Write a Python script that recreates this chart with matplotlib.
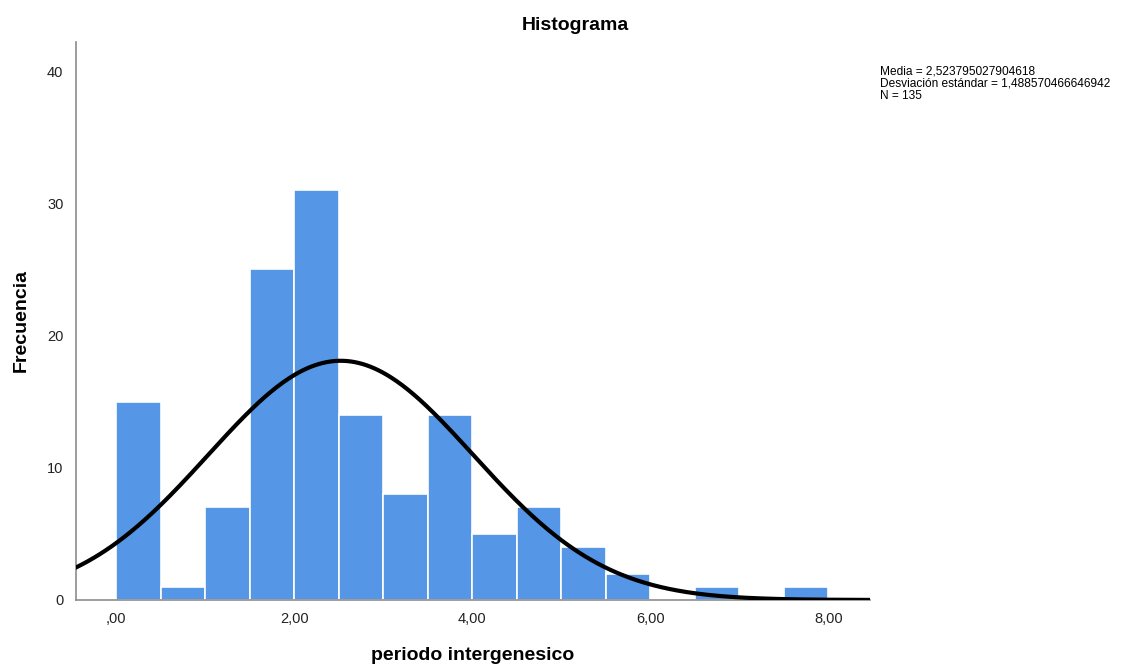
import numpy as np
import matplotlib
matplotlib.use('Agg')
import matplotlib.pyplot as plt

plt.rcParams['font.family'] = ['Liberation Sans', 'DejaVu Sans']

# datos del histograma (ancho de clase 0,5)
bordes = [0.0, 0.5, 1.0, 1.5, 2.0, 2.5, 3.0, 3.5, 4.0, 4.5, 5.0, 5.5, 6.0, 6.5, 7.0, 7.5]
frecuencias = [15, 1, 7, 25, 31, 14, 8, 14, 5, 7, 4, 2, 0, 1, 0, 1]
ancho = 0.5
media = 2.523795027904618
desv = 1.488570466646942
n = 135

fig = plt.figure(figsize=(11.32, 6.66), dpi=100)
ax = fig.add_axes([0.0671, 0.0991, 0.7015, 0.8379])

ax.bar(bordes, frecuencias, width=ancho, align='edge', color='#5596e6',
       edgecolor='white', linewidth=1.2, zorder=2)

# curva normal escalada
xs = np.linspace(-0.45, 8.47, 400)
ys = n * ancho / (desv * np.sqrt(2 * np.pi)) * np.exp(-(xs - media) ** 2 / (2 * desv ** 2))
ax.plot(xs, ys, color='black', linewidth=3, zorder=3)

ax.set_xlim(-0.45, 8.47)
ax.set_ylim(0, 42.2)
ax.set_xticks([0, 2, 4, 6, 8])
ax.set_xticklabels([',00', '2,00', '4,00', '6,00', '8,00'])
ax.set_yticks([0, 10, 20, 30, 40])
ax.tick_params(length=0, labelsize=10.5, colors='#222222', pad=9)

for s in ['top', 'right']:
    ax.spines[s].set_visible(False)
for s in ['left', 'bottom']:
    ax.spines[s].set_color('#8c8c8c')
    ax.spines[s].set_linewidth(1.2)

fig.text(473 / 1132, 1 - 656 / 666, 'periodo intergenesico', ha='center', va='center',
         fontsize=14, fontweight='bold')
fig.text(21 / 1132, 1 - 321 / 666, 'Frecuencia', ha='center', va='center', rotation=90,
         fontsize=14, fontweight='bold')
fig.text(575 / 1132, 1 - 25 / 666, 'Histograma', ha='center', va='center',
         fontsize=14, fontweight='bold')

texto = ('Media = 2,523795027904618\n'
         'Desviación estándar = 1,488570466646942\n'
         'N = 135')
fig.text(880 / 1132, 1 - 66 / 666, texto, ha='left', va='top', fontsize=8.6, linespacing=1.0)

fig.savefig('out.png', dpi=100)
